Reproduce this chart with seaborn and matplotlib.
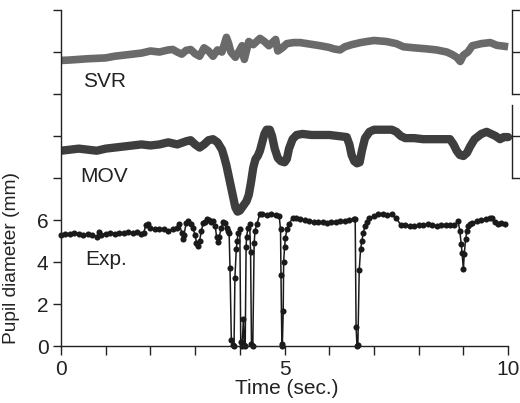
import numpy as np
import pandas as pd
import matplotlib
matplotlib.use("Agg")
import matplotlib.pyplot as plt
import seaborn as sns

# ---------------- data ----------------
exp_t = [0.0, 0.1, 0.2, 0.3, 0.4, 0.5, 0.6, 0.7, 0.8, 0.85, 0.9, 1.0, 1.1, 1.2, 1.3, 1.4,
         1.5, 1.6, 1.7, 1.8, 1.85, 1.9, 1.95, 2.0, 2.1, 2.2, 2.3, 2.4, 2.5, 2.6, 2.65, 2.7,
         2.72, 2.75, 2.8, 2.85, 2.9, 2.95, 3.0, 3.03, 3.07, 3.1, 3.14, 3.18, 3.22, 3.26, 3.3,
         3.35, 3.4, 3.45, 3.48, 3.51, 3.54, 3.58, 3.63, 3.67, 3.71, 3.74, 3.76, 3.78, 3.81,
         3.84, 3.87, 3.89, 3.92, 3.94, 3.96, 4.0, 4.02, 4.05, 4.08, 4.1, 4.12, 4.14, 4.15,
         4.18, 4.22, 4.24, 4.26, 4.29, 4.32, 4.34, 4.38, 4.45, 4.5, 4.6, 4.7, 4.8, 4.88,
         4.91, 4.92, 4.94, 4.95, 4.97, 4.98, 5.0, 5.02, 5.05, 5.1, 5.18, 5.26, 5.35, 5.45,
         5.55, 5.65, 5.75, 5.85, 5.95, 6.05, 6.15, 6.25, 6.35, 6.45, 6.55, 6.58, 6.6, 6.62,
         6.64, 6.67, 6.7, 6.73, 6.76, 6.8, 6.85, 6.9, 7.0, 7.1, 7.2, 7.3, 7.4, 7.5, 7.6,
         7.7, 7.8, 7.9, 8.0, 8.1, 8.2, 8.3, 8.4, 8.5, 8.6, 8.7, 8.8, 8.88, 8.92, 8.95,
         8.97, 9.0, 9.02, 9.05, 9.08, 9.11, 9.15, 9.2, 9.3, 9.4, 9.5, 9.6, 9.65, 9.7,
         9.78, 9.85, 9.92]
exp_y = [5.3, 5.32, 5.35, 5.4, 5.35, 5.3, 5.32, 5.3, 5.2, 5.45, 5.3, 5.35, 5.4, 5.35, 5.38, 5.4,
         5.42, 5.4, 5.45, 5.35, 5.4, 5.75, 5.8, 5.6, 5.55, 5.58, 5.55, 5.5, 5.55, 5.6, 5.8, 5.4,
         5.1, 5.3, 5.85, 5.95, 5.8, 5.6, 5.3, 4.9, 4.75, 5.0, 5.5, 5.85, 5.9, 6.05, 6.0,
         5.9, 5.95, 5.7, 5.2, 4.95, 5.2, 5.6, 5.9, 5.85, 5.6, 5.5, 5.4, 3.7, 0.3,
         0.05, 0.0, 3.25, 4.6, 5.0, 5.4, 5.55, 0.2, 0.0, 1.3, 0.05, 0.0, 4.7, 5.2,
         5.6, 5.8, 4.5, 0.1, 0.0, 4.9, 5.5, 5.8, 6.3, 6.3, 6.25, 6.3, 6.25, 6.2,
         5.55, 3.4, 0.1, 0.0, 1.65, 4.0, 4.7, 5.15, 5.55, 5.8, 6.1, 6.1, 6.05, 6.0,
         5.95, 5.9, 5.9, 5.9, 5.88, 5.9, 5.92, 5.95, 5.95, 6.0, 6.05, 6.05, 0.9, 0.0,
         0.05, 3.6, 4.6, 5.0, 5.4, 5.7, 5.9, 6.1, 6.2, 6.27, 6.27, 6.25, 6.27, 6.1, 5.75,
         5.75, 5.7, 5.72, 5.75, 5.75, 5.8, 5.75, 5.72, 5.75, 5.75, 5.75, 5.75, 5.95, 5.5, 4.85,
         4.45, 3.65, 4.4, 5.1, 5.5, 5.7, 5.8, 5.85, 5.95, 6.0, 6.05, 6.1, 6.1, 5.9,
         5.8, 5.85, 5.8]

mov_t = [0.0, 0.2, 0.4, 0.6, 0.8, 1.0, 1.2, 1.4, 1.6, 1.8, 2.0, 2.2, 2.4, 2.6, 2.8, 2.9,
         3.0, 3.1, 3.2, 3.3, 3.4, 3.5, 3.6, 3.65, 3.7, 3.75, 3.8, 3.85, 3.9, 3.95, 4.0,
         4.05, 4.1, 4.15, 4.2, 4.25, 4.3, 4.35, 4.4, 4.45, 4.5, 4.55, 4.6, 4.67, 4.72,
         4.78, 4.85, 4.92, 5.0, 5.05, 5.1, 5.18, 5.27, 5.4, 5.6, 5.8, 6.0, 6.2, 6.39,
         6.45, 6.5, 6.56, 6.62, 6.68, 6.73, 6.8, 6.9, 7.0, 7.2, 7.4, 7.5, 7.6, 7.7, 7.9,
         8.1, 8.3, 8.5, 8.7, 8.78, 8.85, 8.92, 9.0, 9.08, 9.15, 9.25, 9.4, 9.52, 9.62,
         9.72, 9.82, 9.9, 10.0]
mov_y = [9.3, 9.35, 9.4, 9.35, 9.3, 9.4, 9.45, 9.5, 9.55, 9.6, 9.55, 9.6, 9.7, 9.6, 9.75, 9.8,
         9.6, 9.45, 9.6, 9.8, 9.85, 9.7, 9.35, 9.0, 8.6, 8.1, 7.6, 7.1, 6.6, 6.4, 6.45,
         6.6, 6.75, 6.9, 7.2, 7.8, 8.5, 8.9, 9.05, 9.3, 9.7, 10.1, 10.3, 10.3, 10.0,
         9.4, 8.95, 8.8, 8.75, 8.9, 9.4, 9.85, 10.05, 10.1, 10.05, 10.05, 10.05, 10.0, 9.95,
         9.6, 9.1, 8.8, 8.7, 8.75, 9.3, 9.9, 10.2, 10.3, 10.3, 10.3, 10.2, 10.0, 9.9, 9.9,
         9.85, 9.85, 9.85, 9.85, 9.6, 9.3, 9.1, 9.05, 9.2, 9.5, 9.85, 10.1, 10.2, 10.1,
         10.0, 9.85, 9.95, 9.95]

svr_t = [0.0, 0.2, 0.4, 0.6, 0.8, 1.0, 1.2, 1.4, 1.6, 1.8, 2.0, 2.2, 2.4, 2.5, 2.6, 2.7,
         2.8, 2.9, 3.0, 3.1, 3.2, 3.3, 3.4, 3.5, 3.6, 3.7, 3.75, 3.8, 3.9, 4.0, 4.05, 4.1,
         4.2, 4.3, 4.45, 4.55, 4.65, 4.8, 4.85, 4.95, 5.05, 5.2, 5.35, 5.5, 5.65, 5.8, 6.0,
         6.1, 6.24, 6.35, 6.5, 6.7, 6.84, 7.0, 7.28, 7.5, 7.66, 7.9, 8.18, 8.4, 8.63, 8.75,
         8.85, 8.93, 9.0, 9.1, 9.2, 9.4, 9.6, 9.75, 9.9, 10.0]
svr_y = [13.6, 13.62, 13.65, 13.68, 13.7, 13.72, 13.8, 13.85, 13.9, 13.95, 14.05, 14.0, 14.1,
         14.12, 14.0, 13.9, 14.08, 14.12, 13.92, 13.8, 14.2, 14.05, 13.8, 14.1, 14.0, 14.7,
         14.4, 14.0, 13.75, 14.1, 14.3, 13.65, 14.5, 14.35, 14.65, 14.5, 14.3, 14.6, 14.05,
         14.2, 14.4, 14.45, 14.45, 14.4, 14.35, 14.3, 14.22, 14.15, 14.1, 14.25, 14.35, 14.45,
         14.5, 14.55, 14.5, 14.4, 14.25, 14.2, 14.15, 14.1, 14.0, 13.88, 13.75, 13.55, 13.85,
         14.0, 14.3, 14.4, 14.45, 14.32, 14.28, 14.25]

series_labels = ["SVR", "MOV", "Exp."]
y_ticks = [0, 2, 4, 6, 8, 10, 12, 14, 16]
y_ticklabels = ["0", "2", "4", "6", "", "", "", "", ""]
x_ticks = [0, 1, 2, 3, 4, 5, 6, 7, 8, 9, 10]
x_ticklabels = ["0", "", "", "", "", "5", "", "", "", "", "10"]

# ---------------- style ----------------
sns.set_theme(style="ticks")
plt.rcParams["font.family"] = ["Liberation Sans", "DejaVu Sans"]
FS = 15
INK = "#222222"

fig = plt.figure(figsize=(5.2, 4.03), dpi=100)
ax = fig.add_axes([0.1173, 0.1414, 0.8667, 0.8337])

exp_df = pd.DataFrame({"t": exp_t, "y": exp_y})
mov_df = pd.DataFrame({"t": mov_t, "y": mov_y})
svr_df = pd.DataFrame({"t": svr_t, "y": svr_y})

sns.lineplot(data=svr_df, x="t", y="y", ax=ax, color="#6a6a6a", lw=5.5,
             estimator=None, sort=False,
             solid_joinstyle="round", solid_capstyle="butt")
sns.lineplot(data=mov_df, x="t", y="y", ax=ax, color="#3e3e3e", lw=6.0,
             estimator=None, sort=False, solid_capstyle="round",
             solid_joinstyle="round")
sns.lineplot(data=exp_df, x="t", y="y", ax=ax, color="#1a1a1a", lw=1.1,
             estimator=None, sort=False, marker="o", markersize=4.4,
             markeredgewidth=0, clip_on=False)

ax.set_xlim(0, 10.08)
ax.set_ylim(0, 16)
ax.spines["top"].set_visible(False)
ax.spines["right"].set_visible(False)
ax.spines["bottom"].set_bounds(0, 10)
ax.spines["left"].set_bounds(0, 16)
for s in ("left", "bottom"):
    ax.spines[s].set_linewidth(1.0)
    ax.spines[s].set_color(INK)

ax.set_yticks(y_ticks)
ax.set_yticklabels(y_ticklabels)
ax.set_xticks(x_ticks)
ax.set_xticklabels(x_ticklabels)
ax.tick_params(axis="y", direction="out", length=6, width=1.0, pad=3,
               labelsize=FS, colors=INK)
ax.tick_params(axis="x", direction="out", length=6.5, width=1.0, pad=3.5,
               labelsize=FS, colors=INK)

ax.set_xlabel("Time (sec.)", fontsize=FS, color=INK, labelpad=0)
ax.xaxis.set_label_coords(0.5, -0.098)
ax.set_ylabel("Pupil diameter (mm)", fontsize=13.8, color=INK)
ax.yaxis.set_label_coords(-0.091, 0.262)

label_x = [0.985, 0.97, 1.0]
label_y = [12.34, 7.8, 3.88]
for txt, lx, ly in zip(series_labels, label_x, label_y):
    ax.text(lx, ly, txt, fontsize=FS, ha="center", va="baseline", color=INK)

# right-hand scale brackets
for lo, hi, ticks in [(12, 16, [12, 14, 16]), (8, 11.5, [8, 10])]:
    axr = ax.twinx()
    axr.set_ylim(0, 16)
    for s in ("top", "left", "bottom"):
        axr.spines[s].set_visible(False)
    axr.spines["right"].set_bounds(lo, hi)
    axr.spines["right"].set_linewidth(1.0)
    axr.spines["right"].set_color(INK)
    axr.set_yticks(ticks)
    axr.set_yticklabels([""] * len(ticks))
    axr.tick_params(axis="y", direction="out", length=6, width=1.0, colors=INK)
    axr.patch.set_visible(False)

fig.savefig("out.png", dpi=100)
